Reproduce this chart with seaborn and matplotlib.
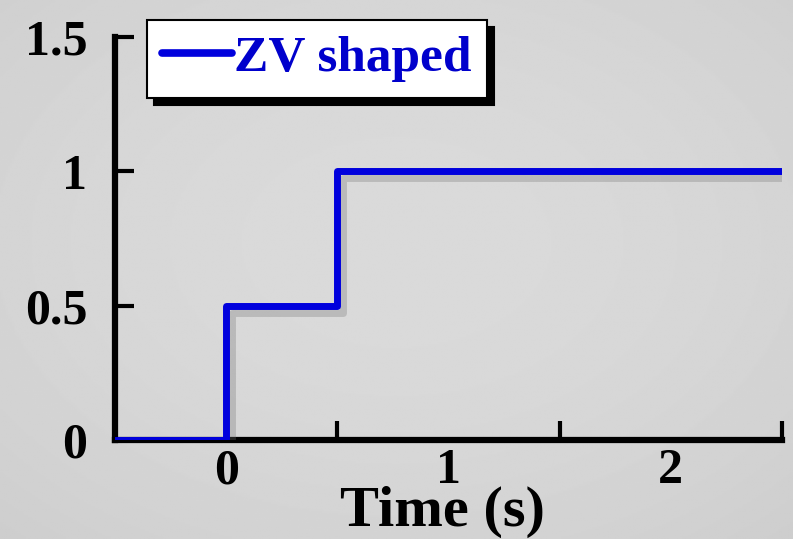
import numpy as np
import pandas as pd
import matplotlib
matplotlib.use("Agg")
import matplotlib.pyplot as plt
import matplotlib.patheffects as pe
import seaborn as sns

# Data
time_s = [-0.5, 0.0, 0.5, 2.5]
zv_shaped = [0.0, 0.5, 1.0, 1.0]
x_major = [0, 1, 2]
x_minor = [0.5, 1.5, 2.5]
y_ticks = [0, 0.5, 1, 1.5]
y_labels = ["0", "0.5", "1", "1.5"]

sns.set_style("ticks")
plt.rcParams["font.family"] = ["Liberation Serif", "DejaVu Serif"]
plt.rcParams["font.weight"] = "bold"
plt.rcParams["text.color"] = "black"
plt.rcParams["xtick.color"] = "black"
plt.rcParams["ytick.color"] = "black"
plt.rcParams["axes.labelcolor"] = "black"

fig = plt.figure(figsize=(7.93, 5.39), dpi=100)

# Background radial gradient
bg = fig.add_axes([0, 0, 1, 1], zorder=-10)
yy, xx = np.mgrid[0:1:300j, 0:1:440j]
r = np.sqrt(((xx - 0.5) / 0.75) ** 2 + ((yy - 0.45) / 0.75) ** 2)
img = 0.855 - 0.05 * np.clip(r, 0, 1.2) ** 2
bg.imshow(img, cmap="gray", vmin=0, vmax=1, aspect="auto", extent=[0, 1, 0, 1])
bg.axis("off")

ax = fig.add_axes([0.145, 0.184, 0.841, 0.747])
ax.patch.set_alpha(0)

df = pd.DataFrame({"Time (s)": time_s, "ZV shaped": zv_shaped})
sns.lineplot(data=df, x="Time (s)", y="ZV shaped", ax=ax, color="#0000dd",
             linewidth=5, drawstyle="steps-post", label="ZV shaped",
             path_effects=[pe.SimpleLineShadow(offset=(4, -5), shadow_color="0.45", alpha=0.3),
                           pe.Normal()])

ax.set_xlim(-0.5, 2.5)
ax.set_ylim(0, 1.5)
ax.set_xticks(x_major)
ax.set_xticklabels([str(v) for v in x_major], fontsize=36, fontweight="bold")
ax.set_xticks(x_minor, minor=True)
ax.tick_params(axis="x", which="major", length=0, pad=6)
ax.tick_params(axis="x", which="minor", direction="in", length=14, width=3, color="black")
ax.set_yticks(y_ticks)
ax.set_yticklabels(y_labels, fontsize=36, fontweight="bold")
ax.tick_params(axis="y", which="major", direction="in", length=14, width=3, pad=20, color="black")
ax.set_xlabel("Time (s)", fontsize=42, fontweight="bold", va="bottom")
ax.xaxis.set_label_coords(443 / 793, 0.5 / 539, transform=fig.transFigure)
ax.set_ylabel("")

for s in ["top", "right"]:
    ax.spines[s].set_visible(False)
for s in ["left", "bottom"]:
    ax.spines[s].set_linewidth(4.5)
    ax.spines[s].set_color("black")
    ax.spines[s].set_zorder(1)

leg = ax.legend(loc="upper left", bbox_to_anchor=(147 / 793, 1 - 20 / 539),
                bbox_transform=fig.transFigure, frameon=True, fancybox=False,
                shadow={"color": "black", "alpha": 1, "ox": 5, "oy": -5}, borderpad=0.3,
                handlelength=1.35, handletextpad=0.05, borderaxespad=0,
                prop={"family": "Liberation Serif", "weight": "bold", "size": 37})
leg.get_frame().set_edgecolor("black")
leg.get_frame().set_linewidth(1.5)
leg.get_frame().set_facecolor("white")
leg.get_frame().set_alpha(1)
for ln in leg.get_lines():
    ln.set_path_effects([])
    ln.set_linewidth(5.5)
for t in leg.get_texts():
    t.set_color("#0000cc")

fig.savefig("out.png", dpi=100)
